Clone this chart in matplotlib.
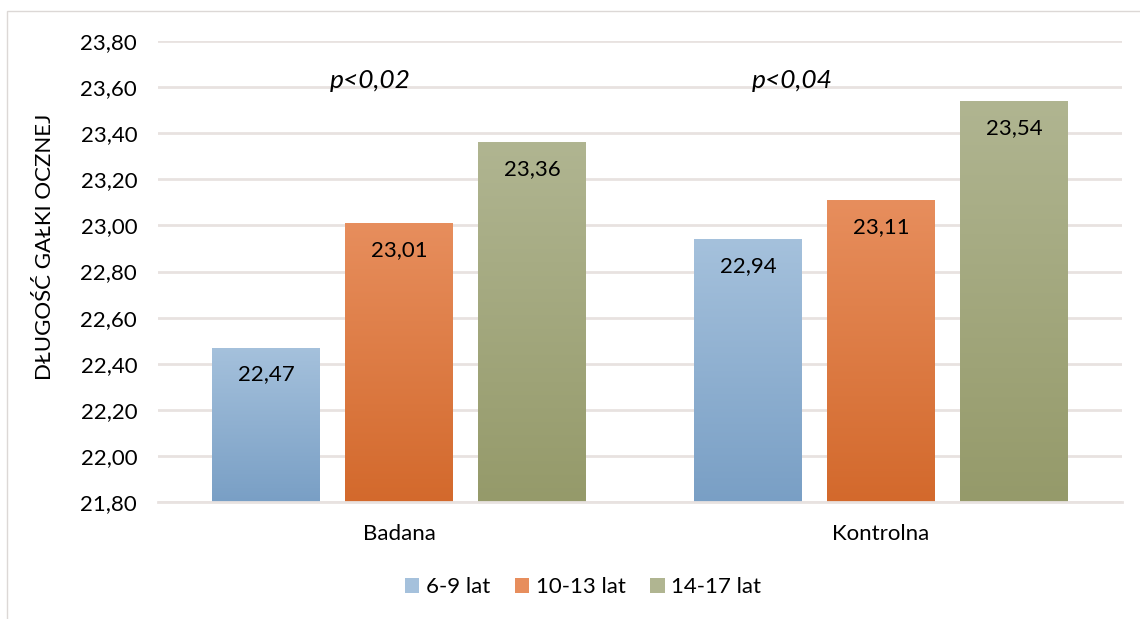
import numpy as np
import matplotlib.pyplot as plt
from matplotlib.colors import LinearSegmentedColormap
from matplotlib.patches import Rectangle
import matplotlib.ticker as mtick

plt.rcParams['font.family'] = ['Lato', 'DejaVu Sans']

# groups and age bands
groups = ["Badana", "Kontrolna"]
ages = ["6-9 lat", "10-13 lat", "14-17 lat"]
values = {
    "6-9 lat": [22.47, 22.94],
    "10-13 lat": [23.01, 23.11],
    "14-17 lat": [23.36, 23.54],
}
p_labels = ["p<0,02", "p<0,04"]
p_offsets = [-0.06, -0.185]

# gradient ends (top, bottom) per series
colors = {
    "6-9 lat": ("#A5C1DC", "#799FC5"),
    "10-13 lat": ("#E78E5D", "#D3692C"),
    "14-17 lat": ("#B0B591", "#959A6A"),
}
txt_color = "#000000"

fig = plt.figure(figsize=(11.4, 6.19), dpi=100)
ax = fig.add_axes([158 / 1140, 1 - 502 / 619, (1122 - 158) / 1140, (502 - 41) / 619])

x = np.arange(len(groups))
width = 0.224
step = 0.276

for i, age in enumerate(ages):
    top, bottom = colors[age]
    cmap = LinearSegmentedColormap.from_list(age, [bottom, top])
    bars = ax.bar(x + (i - 1) * step, values[age], width=width,
                  color="none", edgecolor="none", zorder=2)
    for b, v in zip(bars, values[age]):
        x0, w = b.get_x(), b.get_width()
        grad = np.linspace(0, 1, 256).reshape(-1, 1)
        im = ax.imshow(grad, cmap=cmap, origin="lower", aspect="auto",
                       extent=(x0, x0 + w, 21.8, v), zorder=2)
        im.set_clip_path(b)
        ax.annotate(f"{v:.2f}".replace(".", ","), (x0 + w / 2, v),
                    xytext=(0, -27), textcoords="offset pixels",
                    ha="center", va="center", fontsize=16, color=txt_color,
                    zorder=3)

for xi, txt, off in zip(x, p_labels, p_offsets):
    ax.text(xi + off, 23.63, txt, ha="center", va="center", fontsize=19,
            style="italic", color=txt_color)

ax.set_xlim(-0.5, 1.5)
ax.set_ylim(21.8, 23.8)
ax.set_yticks(np.arange(21.8, 23.81, 0.2))
ax.yaxis.set_major_formatter(mtick.FuncFormatter(lambda v, p: f"{v:.2f}".replace(".", ",")))
ax.set_xticks(x)
ax.set_xticklabels(groups)
ax.tick_params(axis="both", length=0, labelsize=16, colors=txt_color)
ax.tick_params(axis="y", pad=15)
ax.tick_params(axis="x", pad=16)
ax.grid(axis="y", color="#E8E2E0", linewidth=2, zorder=0)
ax.set_axisbelow(True)
for s in ax.spines.values():
    s.set_visible(False)
ax.spines["bottom"].set_visible(True)
ax.spines["bottom"].set_color("#E8E2E0")
ax.spines["bottom"].set_linewidth(2)

fig.text(45 / 1140, 1 - 247 / 619, "DŁUGOŚĆ GAŁKI OCZNEJ", rotation=90,
         ha="center", va="center", fontsize=16, color=txt_color)

leg_handles = [Rectangle((0, 0), 1, 1, facecolor=colors[a][0], edgecolor="none")
               for a in ages]
fig.legend(leg_handles, ages, loc="center", bbox_to_anchor=(583 / 1140, 1 - 587 / 619),
           ncol=3, frameon=False, fontsize=16, handlelength=0.65, handleheight=0.65,
           handletextpad=0.3, columnspacing=1.1)

fig.add_artist(Rectangle((7 / 1140, -0.02), 1.0, 1 - 11 / 619 + 0.02,
                         transform=fig.transFigure, fill=False,
                         edgecolor="#DCD8D6", linewidth=1))

fig.savefig("out.png", dpi=100)
